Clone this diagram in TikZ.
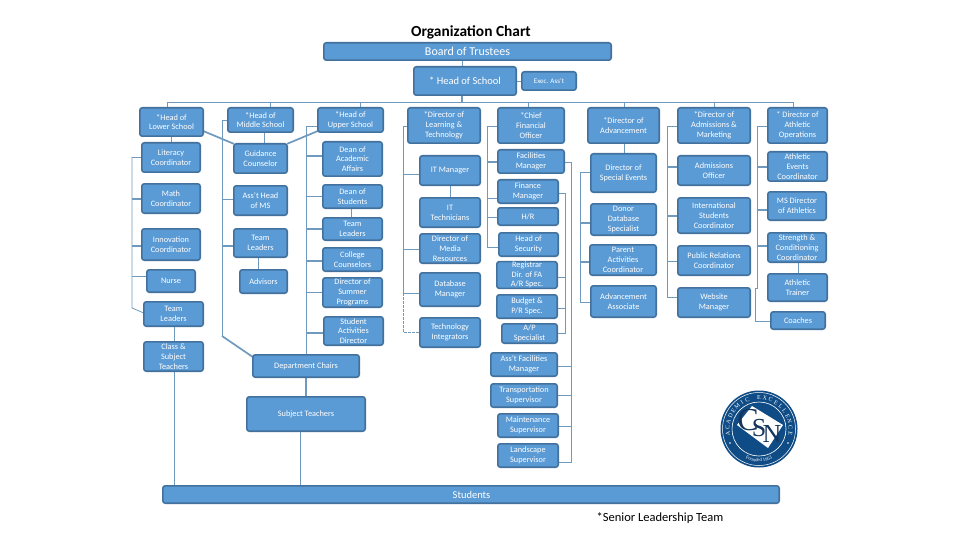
\documentclass[tikz,border=0pt]{standalone}
\usepackage{fontspec}
\setmainfont{Carlito}
\newfontfamily\sealfont{Liberation Serif}
\usetikzlibrary{decorations.text,backgrounds}
\definecolor{boxfill}{HTML}{5B9BD5}
\definecolor{boxedge}{HTML}{41719C}
\definecolor{linkc}{HTML}{6F9ABD}
\definecolor{navy}{HTML}{0F4C86}
\definecolor{inkc}{HTML}{14365C}
\tikzset{
  orgbox/.style={draw=boxedge,fill=boxfill,line width=1.6pt,rounded corners=2.5pt,inner sep=0pt,outer sep=0pt,
    text=white,align=center,font=\fontsize{8.3}{9.8}\selectfont},
  link/.style={draw=linkc,line width=0.8pt},
  midlink/.style={draw=linkc,line width=1.1pt},
  thicklink/.style={draw=linkc,line width=1.7pt},
  dashlink/.style={draw=linkc,line width=0.7pt,dash pattern=on 2.5pt off 1.5pt},
  sealletter/.style={text=white,inner sep=0pt,font=\sealfont\fontsize{6}{6}\selectfont},
  sealmark/.style={text=inkc,inner sep=0pt},
}
% name, x1, y1, x2, y2, text
\newcommand{\orgb}[6]{%
  \pgfmathsetmacro{\bxc}{(#2+#4)/2}\pgfmathsetmacro{\byc}{(#3+#5)/2}%
  \pgfmathsetmacro{\bxw}{#4-#2-1.6}\pgfmathsetmacro{\byh}{#5-#3-1.6}%
  \node[orgbox,minimum width=\bxw pt,minimum height=\byh pt] (#1) at (\bxc,\byc) {#6};}
% spine coordinate, node, y
\newcommand{\brw}[4][link]{\draw[#1] (#2 |- 0,#4) -- (#3.west |- 0,#4);}
\newcommand{\bre}[4][link]{\draw[#1] (#2 |- 0,#4) -- (#3.east |- 0,#4);}
\begin{document}
\begin{tikzpicture}[x=1pt,y=-1pt]
\useasboundingbox (0,0) rectangle (960,540);

% spine coordinates
\coordinate (sLow) at (132,0);
\coordinate (sMid) at (222,0);
\coordinate (sUp) at (306,0);
\coordinate (sLearn) at (403,0);
\coordinate (sCfo) at (487,0);
\coordinate (sFin) at (565,0);
\coordinate (sFac) at (571,0);
\coordinate (sAdv) at (580,0);
\coordinate (sAdm) at (667,0);
\coordinate (sAth) at (757,0);
\coordinate (sAth2) at (755.5,0);
\coordinate (topL) at (167,102);
\coordinate (topR) at (793,102);

% boxes
\orgb{board}{323}{42}{612}{61}{\fontsize{12}{13}\selectfont Board of Trustees}
\orgb{head}{413}{66}{517}{96}{\fontsize{10.5}{12}\selectfont * Head of School}
\orgb{exec}{521}{71}{577}{91}{\fontsize{7}{8}\selectfont Exec. Ass't}

\orgb{lower}{139}{107}{204}{137}{*Head of\\Lower School}
\orgb{middle}{227}{107}{294}{133}{*Head of\\Middle School}
\orgb{upper}{317}{107}{384}{133}{*Head of\\Upper School}
\orgb{learn}{407}{107}{481}{144}{*Director of\\Learning \&\\Technology}
\orgb{cfo}{497}{107}{565}{144}{*Chief\\Financial\\Officer}
\orgb{adv}{587}{107}{660}{144}{*Director of\\Advancement}
\orgb{adm}{677}{107}{751}{144}{*Director of\\Admissions \&\\Marketing}
\orgb{ath}{767}{107}{828}{144}{* Director of\\Athletic\\Operations}

\orgb{literacy}{141}{142}{201}{173}{Literacy\\Coordinator}
\orgb{math}{141}{183}{201}{214}{Math\\Coordinator}
\orgb{innov}{141}{228}{201}{261}{Innovation\\Coordinator}
\orgb{nurse}{146}{269}{196}{293}{Nurse}
\orgb{tlLow}{143}{301}{204}{327}{Team\\Leaders}
\orgb{cls}{143}{341}{204}{372}{Class \&\\Subject\\Teachers}

\orgb{guid}{233}{143}{288}{174}{Guidance\\Counselor}
\orgb{asst}{233}{185}{288}{216}{Ass't Head\\of MS}
\orgb{tlMid}{233}{228}{288}{258}{Team\\Leaders}
\orgb{advis}{239}{269}{288}{294}{Advisors}

\orgb{dean}{322}{141}{383}{177}{Dean of\\Academic\\Affairs}
\orgb{deans}{322}{184}{383}{209}{Dean of\\Students}
\orgb{tlUp}{322}{217}{383}{241}{Team\\Leaders}
\orgb{coll}{322}{247}{383}{272}{College\\Counselors}
\orgb{summ}{322}{277}{383}{308}{Director of\\Summer\\Programs}
\orgb{activ}{323}{316}{384}{346}{Student\\Activities\\Director}
\orgb{dept}{252}{354}{360}{378}{Department Chairs}
\orgb{subj}{246}{396}{366}{432}{Subject Teachers}

\orgb{itm}{419}{155}{481}{186}{IT Manager}
\orgb{itt}{419}{197}{481}{228}{IT\\Technicians}
\orgb{media}{419}{233}{481}{264}{Director of\\Media\\Resources}
\orgb{dbm}{419}{272}{481}{307}{Database\\Manager}
\orgb{integ}{419}{317}{481}{348}{Technology\\Integrators}

\orgb{fac}{497}{149}{565}{174}{Facilities\\Manager}
\orgb{fin}{497}{179}{559}{204}{Finance\\Manager}
\orgb{hr}{497}{207}{559}{226}{H/R}
\orgb{sec}{498}{232}{559}{257}{Head of\\Security}
\orgb{reg}{496}{261}{558}{289}{Registrar\\Dir. of FA\\A/R Spec.}
\orgb{bud}{496}{294}{558}{319}{Budget \&\\P/R Spec.}
\orgb{ap}{501}{323}{558}{344}{A/P\\Specialist}
\orgb{afac}{490}{352}{558}{377}{Ass't Facilities\\Manager}
\orgb{trans}{490}{383}{558}{408}{Transportation\\Supervisor}
\orgb{maint}{497}{413}{559}{438}{Maintenance\\Supervisor}
\orgb{land}{497}{443}{559}{468}{Landscape\\Supervisor}

\orgb{spec}{590}{153}{657}{193}{Director of\\Special Events}
\orgb{donor}{590}{203}{657}{236}{Donor\\Database\\Specialist}
\orgb{parent}{589}{244}{657}{276}{Parent\\Activities\\Coordinator}
\orgb{assoc}{590}{285}{657}{318}{Advancement\\Associate}

\orgb{offi}{677}{155}{751}{186}{Admissions\\Officer}
\orgb{intl}{677}{197}{751}{234}{International\\Students\\Coordinator}
\orgb{pr}{677}{245}{751}{276}{Public Relations\\Coordinator}
\orgb{web}{677}{287}{751}{318}{Website\\Manager}

\orgb{event}{767}{151}{828}{182}{Athletic\\Events\\Coordinator}
\orgb{msdir}{767}{191}{827}{221}{MS Director\\of Athletics}
\orgb{stren}{767}{232}{827}{263}{Strength \&\\Conditioning\\Coordinator}
\orgb{train}{767}{273}{828}{302}{Athletic\\Trainer}
\orgb{coach}{770}{311}{826}{330}{Coaches}

\orgb{stud}{162}{485}{780}{504}{\fontsize{10.5}{12}\selectfont\hspace*{1pt}Students}

\begin{pgfonlayer}{background}
\fill[white] (0,0) rectangle (960,540);
% top of the tree
\draw[link] (board.south -| 462,0) -- (head.north -| 462,0);
\draw[midlink] (head.south -| 462,0) -- (462,102);
\draw[link] (head.east |- exec.west) -- (exec.west);
\draw[link] (topL) -- (topR);
\draw[link] (topL) -- (lower.north -| topL);
\foreach \nn/\xx in {middle/270,upper/360,cfo/528,adv/624,adm/714,ath/793}{
  \draw[link] (\xx,102) -- (\nn.north -| \xx,0);
}

% lower school
\draw[link] (lower.south -| 171.5,0) -- (literacy.north -| 171.5,0);
\draw[link] (sLow |- 0,157) -- (sLow |- 0,308) -- (tlLow.west |- 0,313);
\brw{sLow}{literacy}{157}
\brw[midlink]{sLow}{math}{199}
\brw[midlink]{sLow}{innov}{246}
\brw{sLow}{nurse}{276}
\draw[link] (tlLow.south -| 174,0) -- (cls.north -| 174,0);
\draw[link] (cls.south -| 174,0) -- (stud.north -| 174,0);
\draw[thicklink] (lower.east |- 0,131) -- (guid.north west);
\draw[thicklink] (upper.west |- 0,131) -- (guid.north east);

% middle school
\draw[link] (middle.south -| 264.5,0) -- (guid.north -| 264.5,0);
\draw[link] (middle.west |- 0,120) -- (sMid |- 0,120) -- (sMid |- 0,336);
\draw[thicklink] (sMid |- 0,336) -- (dept.west |- 0,357);
\brw{sMid}{asst}{199}
\brw[midlink]{sMid}{tlMid}{246}
\draw[link] (tlMid.south -| 258,0) -- (advis.north -| 258,0);

% upper school
\draw[link] (upper.west |- 0,126) -- (sUp |- 0,126) -- (sUp |- dept.north);
\brw[midlink]{sUp}{dean}{156}
\brw{sUp}{deans}{196}
\brw[midlink]{sUp}{tlUp}{229}
\brw[midlink]{sUp}{coll}{261}
\brw{sUp}{summ}{292}
\brw[midlink]{sUp}{activ}{333}
\draw[link] (deans.south -| 351,0) -- (tlUp.north -| 351,0);
\draw[thicklink] (dept.south -| 306,0) -- (subj.north -| 306,0);
\draw[link] (subj.south -| 300,0) -- (stud.north -| 300,0);

% learning and technology
\draw[link] (learn.west |- 0,126) -- (sLearn |- 0,126) -- (sLearn |- 0,293);
\brw{sLearn}{itm}{174}
\brw{sLearn}{media}{249}
\brw{sLearn}{dbm}{293}
\draw[dashlink] (sLearn |- 0,293) -- (sLearn |- 0,332) -- (integ.west |- 0,332);
\draw[link] (itm.south -| 450,0) -- (itt.north -| 450,0);

% finance
\draw[link] (cfo.west |- 0,126) -- (sCfo |- 0,126) -- (sCfo |- 0,247);
\brw[midlink]{sCfo}{fac}{162}
\brw{sCfo}{fin}{198}
\brw{sCfo}{hr}{217}
\brw{sCfo}{sec}{247}
\draw[link] (fac.east |- 0,162) -- (sFac |- 0,162) -- (sFac |- 0,462) -- (land.east |- 0,462);
\bre{sFac}{afac}{366}
\bre{sFac}{trans}{395}
\bre{sFac}{maint}{426}
\draw[link] (fin.east |- 0,193) -- (sFin |- 0,193) -- (sFin |- 0,333) -- (ap.east |- 0,333);
\bre{sFin}{reg}{277}
\bre{sFin}{bud}{308}

% advancement
\draw[link] (adv.south -| 624,0) -- (spec.north -| 624,0);
\draw[link] (spec.west |- 0,172) -- (sAdv |- 0,172) -- (sAdv |- 0,303);
\brw[midlink]{sAdv}{donor}{223}
\brw[midlink]{sAdv}{parent}{262}
\brw{sAdv}{assoc}{302}

% admissions
\draw[link] (adm.west |- 0,126) -- (sAdm |- 0,126) -- (sAdm |- 0,297) -- (web.west |- 0,297);
\brw[midlink]{sAdm}{offi}{167}
\brw[midlink]{sAdm}{intl}{216}
\brw{sAdm}{pr}{261}

% athletics
\draw[link] (ath.west |- 0,126) -- (sAth |- 0,126) -- (sAth |- 0,288) -- (sAth2 |- 0,288) -- (sAth2 |- 0,321) -- (coach.west |- 0,321);
\brw[midlink]{sAth}{event}{167}
\brw[midlink]{sAth}{msdir}{210}
\brw[midlink]{sAth}{stren}{246}
\draw[link] (stren.south -| 798,0) -- (train.north -| 798,0);
\end{pgfonlayer}

% title and note
\node[font=\bfseries\fontsize{15.4}{17}\selectfont,inner sep=0pt] (title) at (471,32) {Organization Chart};
\node[font=\fontsize{12.5}{14}\selectfont,inner sep=0pt,anchor=west] (note) at (596.5,518) {*Senior Leadership Team};

% seal
\fill[navy] (759,429) circle (38.5);
\draw[white,line width=0.5pt] (759,429) circle (36.5);
\begin{scope}
  \clip (759,429) circle (27);
  \fill[white] (752,406) -- (783,425) -- (768,448) -- (737,425) -- cycle;
\end{scope}
\draw[white,line width=0.6pt] (759,429) circle (27);
\node[sealmark,font=\sealfont\fontsize{32}{32}\selectfont] (sealc) at (748,420) {C};
\node[sealmark,font=\sealfont\fontsize{26}{26}\selectfont] (seals) at (759,428) {S};
\node[sealmark,font=\sealfont\fontsize{26}{26}\selectfont] (sealn) at (772,434) {N};
\foreach \ch [count=\ci from 0] in {A,C,A,D,E,M,I,C,,E,X,C,E,L,L,E,N,C,E}{
  \pgfmathsetmacro{\sa}{188-\ci*196/18}
  \node[sealletter,rotate=\sa-90] (sealch\ci) at ({759+31.5*cos(\sa)},{429-31.5*sin(\sa)}) {\ch};
}
\fill[white] (730,443) circle (0.9) (788,443) circle (0.9);
\path[postaction={decorate},decoration={text along path,text align=center,
  text={|\sealfont\fontsize{4.8}{6}\selectfont\color{white}|Founded 1963}}]
  (759,429) ++(-32.5,5) arc[start angle=171,end angle=9,x radius=32.9,y radius=32.9];
\end{tikzpicture}
\end{document}
